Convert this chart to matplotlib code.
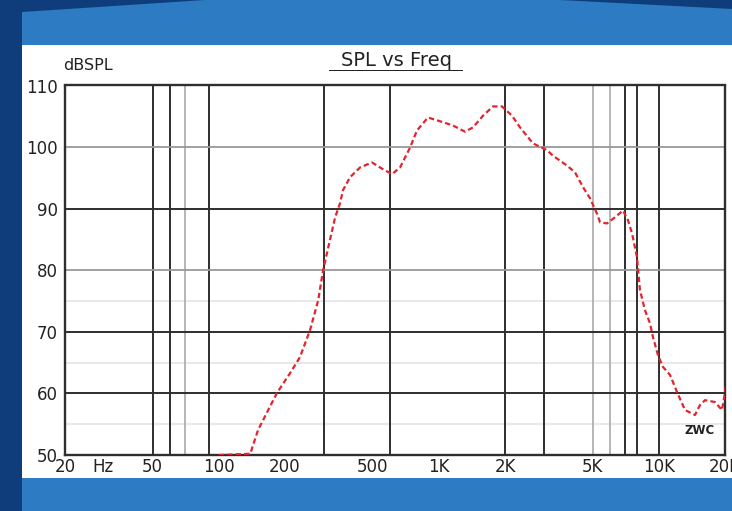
import matplotlib
matplotlib.use("Agg")
import matplotlib.pyplot as plt
from matplotlib.patches import Polygon, Rectangle

# SPL response (Hz, dB)
freq = [100, 139, 151, 184, 211, 234, 260, 283, 298, 320, 338, 356, 367, 395,
        439, 497, 552, 613, 667, 740, 796, 893, 1013, 1160, 1316, 1431, 1589,
        1764, 1938, 2152, 2340, 2681, 3105, 3304, 3826, 4160, 4525, 4867, 5236,
        5408, 5816, 6325, 6878, 7247, 7556, 7962, 8212, 8655, 9120, 9420, 9920,
        10450, 11250, 12110, 13160, 14610, 15390, 16220, 18010, 19370, 20000, 20600]
spl = [50.0, 50.2, 54.1, 60.1, 63.3, 65.9, 70.3, 75.1, 80.0, 84.9, 88.6, 90.9, 93.0, 95.1,
       96.7, 97.5, 96.5, 95.6, 96.7, 99.9, 102.7, 104.8, 104.2, 103.5, 102.5, 103.2, 105.1,
       106.6, 106.6, 105.1, 103.2, 100.6, 99.5, 98.6, 97.0, 95.9, 93.5, 91.7, 89.2,
       87.8, 87.6, 88.6, 89.7, 88.1, 86.0, 82.1, 76.8, 73.5, 71.4, 69.1, 66.2,
       64.3, 63.0, 60.2, 57.3, 56.5, 58.1, 58.9, 58.6, 57.3, 60.1, 64.0]

x_ticks = [20, 50, 100, 200, 500, 1000, 2000, 5000, 10000, 20000]
x_labels = ['20', '50', '100', '200', '500', '1K', '2K', '5K', '10K', '20K']
y_ticks = [50, 60, 70, 80, 90, 100, 110]

# grid lines as drawn on the original sheet
vgrid_dark = [50, 60, 90, 300, 600, 2000, 3000, 7000, 8000, 10000]
vgrid_light = [70, 5000, 6000]
hgrid_dark = [60, 70, 90]
hgrid_mid = [80, 100]
hgrid_faint = [55, 65, 75]

W, H = 732, 511
fig = plt.figure(figsize=(W / 100, H / 100), dpi=100)
fig.patch.set_facecolor('#2d7bc3')


def fx(px):
    return px / W


def fy(py):
    return 1 - py / H


# background decoration (slide frame), kept below the axes
fig.patches.append(Rectangle((0, 0), fx(22), 1, transform=fig.transFigure,
                             facecolor='#0f3d7c', edgecolor='none', zorder=-3))
fig.patches.append(Polygon([(0, 1), (fx(205), 1), (fx(22), fy(12))], closed=True,
                           transform=fig.transFigure, facecolor='#0f3d7c', edgecolor='none', zorder=-3))
fig.patches.append(Polygon([(fx(560), 1), (1, 1), (1, fy(9))], closed=True,
                           transform=fig.transFigure, facecolor='#0f3d7c', edgecolor='none', zorder=-3))
fig.patches.append(Rectangle((fx(22), fy(478)), fx(710), (478 - 45) / H, transform=fig.transFigure,
                             facecolor='white', edgecolor='none', zorder=-2))

# plot area
left, right, top, bottom = 65, 725, 85.5, 455
ax = fig.add_axes([fx(left), fy(bottom), (right - left) / W, (bottom - top) / H])
ax.set_xscale('log')
ax.set_xlim(20, 20000)
ax.set_ylim(50, 110)
ax.set_facecolor('white')

for f in vgrid_dark:
    ax.axvline(f, color='#2e2e2e', lw=1.4, zorder=1)
for f in vgrid_light:
    ax.axvline(f, color='#b0b0b0', lw=1.3, zorder=1)
for v in hgrid_dark:
    ax.axhline(v, color='#2e2e2e', lw=1.4, zorder=1)
for v in hgrid_mid:
    ax.axhline(v, color='#999999', lw=1.3, zorder=1)
for v in hgrid_faint:
    ax.axhline(v, color='#e6e6e6', lw=1.3, zorder=0.9)

ax.plot(freq, spl, color='#e3232d', lw=1.6, dashes=(2.4, 1.4), zorder=5)

for s in ax.spines.values():
    s.set_color('#2e2e2e')
    s.set_linewidth(1.7)
    s.set_zorder(4)

ax.set_xticks(x_ticks)
ax.set_xticklabels(x_labels)
ax.xaxis.set_minor_locator(matplotlib.ticker.NullLocator())
ax.set_yticks(y_ticks)
ax.set_yticklabels([str(v) for v in y_ticks])
ax.tick_params(axis='both', length=0, labelsize=12, colors='#222222')
ax.tick_params(axis='x', pad=2)
ax.tick_params(axis='y', pad=5)

fig.text(fx(92), fy(467), 'Hz', fontsize=12, color='#222222', ha='left', va='center')
fig.text(fx(63), fy(66), 'dBSPL', fontsize=11.5, color='#222222', ha='left', va='center')
fig.text(fx(396), fy(60), 'SPL vs Freq', fontsize=14, color='#222222', ha='center', va='center')
fig.patches.append(Rectangle((fx(329), fy(71)), fx(134), 1.4 / H, transform=fig.transFigure,
                             facecolor='#222222', edgecolor='none', zorder=2))
ax.text(0.985, 0.065, 'ZWC', transform=ax.transAxes, fontsize=8.5, fontweight='bold',
        color='#222222', ha='right', va='center', zorder=6)

fig.savefig('out.png', dpi=100, facecolor=fig.get_facecolor())
